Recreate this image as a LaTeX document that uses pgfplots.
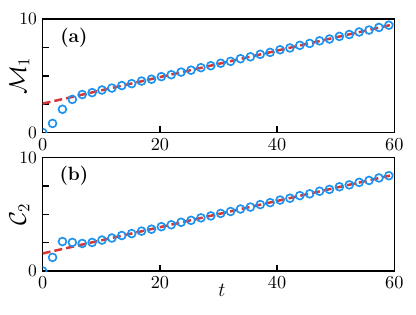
\documentclass[border=0pt]{standalone}
\usepackage{pgfplots}
\pgfplotsset{compat=1.18}
\definecolor{myred}{RGB}{214,55,55}
\definecolor{myblue}{RGB}{28,147,240}
\pgfplotsset{
  myaxis/.style={
    scale only axis, width=211pt, height=68pt,
    xmin=0, xmax=60, ymin=0, ymax=10,
    xtick={0,20,40,60},
    ytick={0,2.5,5,7.5,10}, yticklabels={0,,,,10},
    tick pos=left, tick align=inside,
    major tick length=3.8pt,
    axis line style={line width=0.9pt},
    every tick/.style={black, line width=0.9pt},
    tick label style={font=\fontsize{10.5}{12}\selectfont},
    label style={font=\large},
    ylabel style={font=\Large, at={(axis description cs:-0.066,0.5)},anchor=center},
    clip marker paths=true,
  },
  dataline/.style={myred, line width=1.5pt, dash pattern=on 4.8pt off 2.4pt},
  datamarks/.style={only marks, mark=o, mark size=2.35pt, myblue, mark options={line width=1pt, fill=white}},
}
\begin{document}
\begin{tikzpicture}
\path[use as bounding box] (0,0) rectangle (249.6pt,188.4pt);
\begin{axis}[myaxis, at={(25.6pt,108.9pt)}, anchor=south west, ylabel={$\mathcal{M}_1$}]
\addplot[dataline] coordinates {(0,2.55) (60,9.56)};
\addplot[datamarks] coordinates {
(0,0) (1.6875,0.80) (3.375,2.05) (5.0625,2.92) (6.75,3.35)
(8.4375,3.52) (10.125,3.75) (11.8125,3.92) (13.5,4.14) (15.1875,4.31)
(16.875,4.54) (18.5625,4.70) (20.25,4.93) (21.9375,5.10) (23.625,5.33)
(25.3125,5.50) (27,5.72) (28.6875,5.89) (30.375,6.11) (32.0625,6.28)
(33.75,6.51) (35.4375,6.68) (37.125,6.90) (38.8125,7.07) (40.5,7.30)
(42.1875,7.46) (43.875,7.69) (45.5625,7.86) (47.25,8.09) (48.9375,8.25)
(50.625,8.48) (52.3125,8.65) (54,8.87) (55.6875,9.04) (57.375,9.27)
(59.0625,9.47)
};
\node[font=\fontsize{11.5}{13}\selectfont\bfseries] at (axis description cs:0.089,0.84) {(a)};
\end{axis}
\begin{axis}[myaxis, at={(25.6pt,25.8pt)}, anchor=south west, ylabel={$\mathcal{C}_2$}, xlabel={$t$},
  xlabel style={at={(axis description cs:0.51,-0.17)},anchor=center}]
\addplot[dataline] coordinates {(0,1.55) (60,8.50)};
\addplot[datamarks] coordinates {
(0,0) (1.6875,1.20) (3.375,2.60) (5.0625,2.52) (6.75,2.43)
(8.4375,2.52) (10.125,2.73) (11.8125,2.91) (13.5,3.13) (15.1875,3.30)
(16.875,3.52) (18.5625,3.69) (20.25,3.91) (21.9375,4.08) (23.625,4.30)
(25.3125,4.47) (27,4.69) (28.6875,4.86) (30.375,5.08) (32.0625,5.25)
(33.75,5.47) (35.4375,5.64) (37.125,5.86) (38.8125,6.03) (40.5,6.26)
(42.1875,6.42) (43.875,6.65) (45.5625,6.81) (47.25,7.04) (48.9375,7.20)
(50.625,7.43) (52.3125,7.60) (54,7.82) (55.6875,7.99) (57.375,8.21)
(59.0625,8.41)
};
\node[font=\fontsize{11.5}{13}\selectfont\bfseries] at (axis description cs:0.089,0.84) {(b)};
\end{axis}
\end{tikzpicture}
\end{document}
